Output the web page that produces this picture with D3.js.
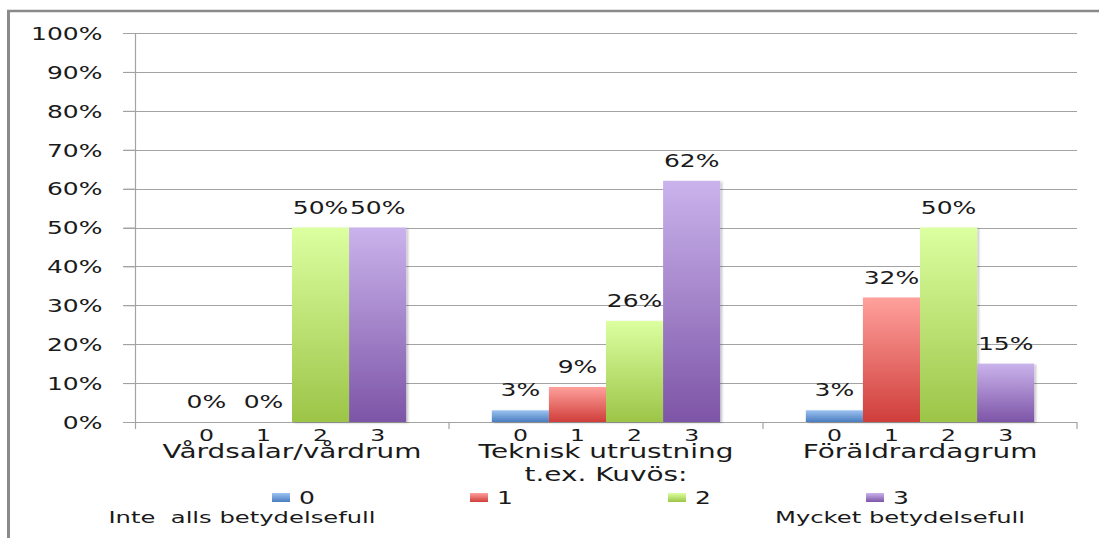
<!DOCTYPE html>
<html>
<head>
<meta charset="utf-8">
<script src="https://cdn.jsdelivr.net/npm/d3@7"></script>
<style>
  html, body { margin: 0; padding: 0; background: #fff; }
  svg text { font-family: "DejaVu Sans", Verdana, sans-serif; fill: #1a1a1a; white-space: pre; }
</style>
</head>
<body>
<svg id="chart" width="1099" height="538"></svg>
<script>
// Chart data
const categories = ["Vårdsalar/vårdrum", "Teknisk utrustning\nt.ex. Kuvös:", "Föräldrardagrum"];
const seriesNames = ["0", "1", "2", "3"];
const series0 = [0.00, 0.03, 0.03];
const series1 = [0.00, 0.09, 0.32];
const series2 = [0.50, 0.26, 0.50];
const series3 = [0.50, 0.62, 0.15];
const yTicks = [0, 0.1, 0.2, 0.3, 0.4, 0.5, 0.6, 0.7, 0.8, 0.9, 1.0];
const legendNotes = ["Inte  alls betydelsefull", "", "", "Mycket betydelsefull"];

const seriesValues = [series0, series1, series2, series3];
const colors = [
  { top: "#9cc2f2", bottom: "#4a7dbf" },
  { top: "#ffa09c", bottom: "#cf3e3a" },
  { top: "#dcffa0", bottom: "#9cc548" },
  { top: "#cab3ec", bottom: "#7d55a7" }
];

const SX = 1.47; // horizontal stretch of the lettering
const svg = d3.select("#chart");

// Text helper: wide lettering by horizontal scaling
function wideText(parent, x, y, str, size, anchor) {
  return parent.append("text")
    .attr("transform", `translate(${x},${y}) scale(${SX},1)`)
    .attr("text-anchor", anchor || "middle")
    .attr("xml:space", "preserve")
    .style("font-size", size + "px")
    .text(str);
}

// Outer frame (left and top edges visible)
svg.append("line").attr("x1", 8.5).attr("x2", 8.5).attr("y1", 10).attr("y2", 538)
  .attr("stroke", "#8a8a8a").attr("stroke-width", 3);
svg.append("line").attr("x1", 7).attr("x2", 1099).attr("y1", 11).attr("y2", 11)
  .attr("stroke", "#8a8a8a").attr("stroke-width", 2.5);

const plot = { left: 135, right: 1077, top: 33, bottom: 422 };

const x0 = d3.scaleBand().domain(categories).range([plot.left, plot.right]).padding(0);
const x1 = d3.scaleBand().domain(seriesNames).range([0, x0.bandwidth()])
  .paddingInner(0).paddingOuter(0.75);
const y = d3.scaleLinear().domain([0, 1]).range([plot.bottom, plot.top]);

// Gradients and bar shadow
const defs = svg.append("defs");
colors.forEach((c, i) => {
  const g = defs.append("linearGradient").attr("id", "grad" + i)
    .attr("x1", 0).attr("y1", 0).attr("x2", 0).attr("y2", 1);
  g.append("stop").attr("offset", "0%").attr("stop-color", c.top);
  g.append("stop").attr("offset", "100%").attr("stop-color", c.bottom);
});
const f = defs.append("filter").attr("id", "shadow")
  .attr("x", "-10%").attr("y", "-10%").attr("width", "130%").attr("height", "120%");
f.append("feDropShadow").attr("dx", 2).attr("dy", 1).attr("stdDeviation", 1.2)
  .attr("flood-color", "#000").attr("flood-opacity", 0.22);

// Gridlines
svg.append("g").selectAll("line").data(yTicks).join("line")
  .attr("x1", plot.left - 12).attr("x2", plot.right)
  .attr("y1", d => Math.round(y(d)) + 0.5).attr("y2", d => Math.round(y(d)) + 0.5)
  .attr("stroke", "#a3a3a3").attr("stroke-width", 1.2);

// Y axis
const yAxis = svg.append("g").attr("transform", `translate(${plot.left + 0.5},0)`)
  .call(d3.axisLeft(y).tickValues(yTicks).tickSize(12).tickSizeOuter(0)
    .tickFormat(d3.format(".0%")));
yAxis.select(".domain").remove();
yAxis.selectAll(".tick line").attr("stroke", "#a3a3a3");
yAxis.selectAll(".tick text").each(function(d) {
  const t = d3.select(this);
  t.attr("x", null).attr("dy", null)
    .attr("transform", `translate(-33,${6.3}) scale(${SX},1)`)
    .attr("text-anchor", "end")
    .style("font-size", "17px").style("font-family", null).attr("fill", "#1a1a1a");
});
yAxis.attr("font-family", null).attr("font-size", null);
svg.append("line").attr("x1", plot.left + 0.5).attr("x2", plot.left + 0.5)
  .attr("y1", plot.top).attr("y2", plot.bottom + 7)
  .attr("stroke", "#a3a3a3").attr("stroke-width", 1.2);

// X axis ticks between categories
const xTickPos = categories.map(c => x0(c) + x0.bandwidth());
svg.append("g").selectAll("line").data(xTickPos).join("line")
  .attr("x1", d => d).attr("x2", d => d)
  .attr("y1", plot.bottom).attr("y2", plot.bottom + 7)
  .attr("stroke", "#a3a3a3").attr("stroke-width", 1.2);

// Bars
const barData = [];
categories.forEach((c, ci) => {
  seriesNames.forEach((s, si) => {
    barData.push({ cat: c, ser: s, si, v: seriesValues[si][ci] });
  });
});
svg.append("g").selectAll("rect").data(barData.filter(d => d.v > 0)).join("rect")
  .attr("x", d => x0(d.cat) + x1(d.ser))
  .attr("width", x1.bandwidth())
  .attr("y", d => y(d.v))
  .attr("height", d => y(0) - y(d.v))
  .attr("fill", d => `url(#grad${d.si})`)
  .attr("filter", "url(#shadow)");

// Value labels
const labels = svg.append("g");
barData.forEach(d => {
  wideText(labels, x0(d.cat) + x1(d.ser) + x1.bandwidth() / 2, y(d.v) - 14,
    d3.format(".0%")(d.v), 17);
});

// Series digits under each bar and category names
const xl = svg.append("g");
categories.forEach(c => {
  seriesNames.forEach(s => {
    wideText(xl, x0(c) + x1(s) + x1.bandwidth() / 2, 441, s, 16);
  });
  c.split("\n").forEach((line, li) => {
    wideText(xl, x0(c) + x0.bandwidth() / 2, 458 + li * 23, line, 19);
  });
});

// Legend
const legendX = d3.scaleLinear().domain([0, 3]).range([272, 866]);
const lg = svg.append("g");
seriesNames.forEach((s, i) => {
  const lx = legendX(i);
  lg.append("rect").attr("x", lx).attr("y", 493).attr("width", 18).attr("height", 9)
    .attr("fill", `url(#grad${i})`);
  wideText(lg, lx + 27, 503.5, s, 17, "start");
});
wideText(lg, 242, 523, legendNotes[0], 16.5);
wideText(lg, 900, 523, legendNotes[3], 16.5);
</script>
</body>
</html>
